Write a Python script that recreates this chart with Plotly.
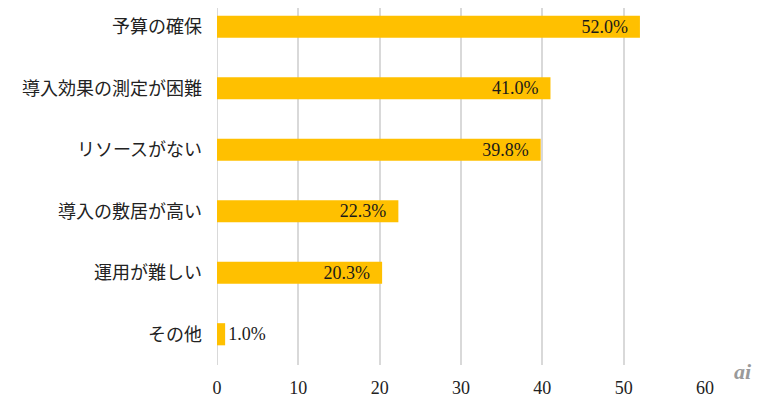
import plotly.graph_objects as go

categories = ["予算の確保", "導入効果の測定が困難", "リソースがない", "導入の敷居が高い", "運用が難しい", "その他"]
values = [52.0, 41.0, 39.8, 22.3, 20.3, 1.0]
labels = [f"{v:.1f}%" for v in values]
x_ticks = [0, 10, 20, 30, 40, 50, 60]

cats = categories[::-1]
vals = values[::-1]
labs = labels[::-1]
positions = ["inside" if v > 5 else "outside" for v in vals]
# inside labels sit a little away from the bar end, as in the reference
shown = [t + "&nbsp;&nbsp;" if p == "inside" else t for t, p in zip(labs, positions)]

fig = go.Figure(go.Bar(
    y=cats, x=vals, orientation="h",
    marker=dict(color="#FFC000", line=dict(width=0)),
    width=0.36,
    text=shown, textposition=positions, insidetextanchor="end",
    constraintext="none",
    textfont=dict(family="Liberation Serif, DejaVu Serif, serif", size=18, color="#1a1a1a"),
    cliponaxis=False,
))

# page body has an 8px default margin, so the figure is sized to fit inside it
fig.update_layout(
    width=760, height=396,
    margin=dict(l=209, r=63, t=0, b=39, autoexpand=False),
    plot_bgcolor="white", paper_bgcolor="white",
    showlegend=False,
    xaxis=dict(
        range=[0, 60], tickvals=x_ticks, showgrid=True, gridcolor="#D9D9D9", gridwidth=2,
        zeroline=False, showline=False, automargin=False,
        tickfont=dict(family="Liberation Serif, DejaVu Serif, serif", size=18, color="#222"),
        ticklabelstandoff=10,
    ),
    yaxis=dict(
        type="category", categoryorder="array", categoryarray=cats,
        range=[-0.5, 5.305], showgrid=False, zeroline=False, showline=False, automargin=False,
        tickfont=dict(family="Noto Sans CJK JP, sans-serif", size=18, color="#222"),
        ticklabelstandoff=14,
    ),
)

fig.add_shape(type="line", xref="x", yref="paper", x0=0, x1=0, y0=0, y1=1,
              line=dict(color="#D9D9D9", width=2), layer="below")

fig.add_annotation(text="<i><b>ai</b></i>", xref="paper", yref="paper", x=1.10, y=-0.06,
                   showarrow=False, font=dict(family="Liberation Serif, serif", size=22, color="#9a9a9a"))

fig.write_html("out.html")
